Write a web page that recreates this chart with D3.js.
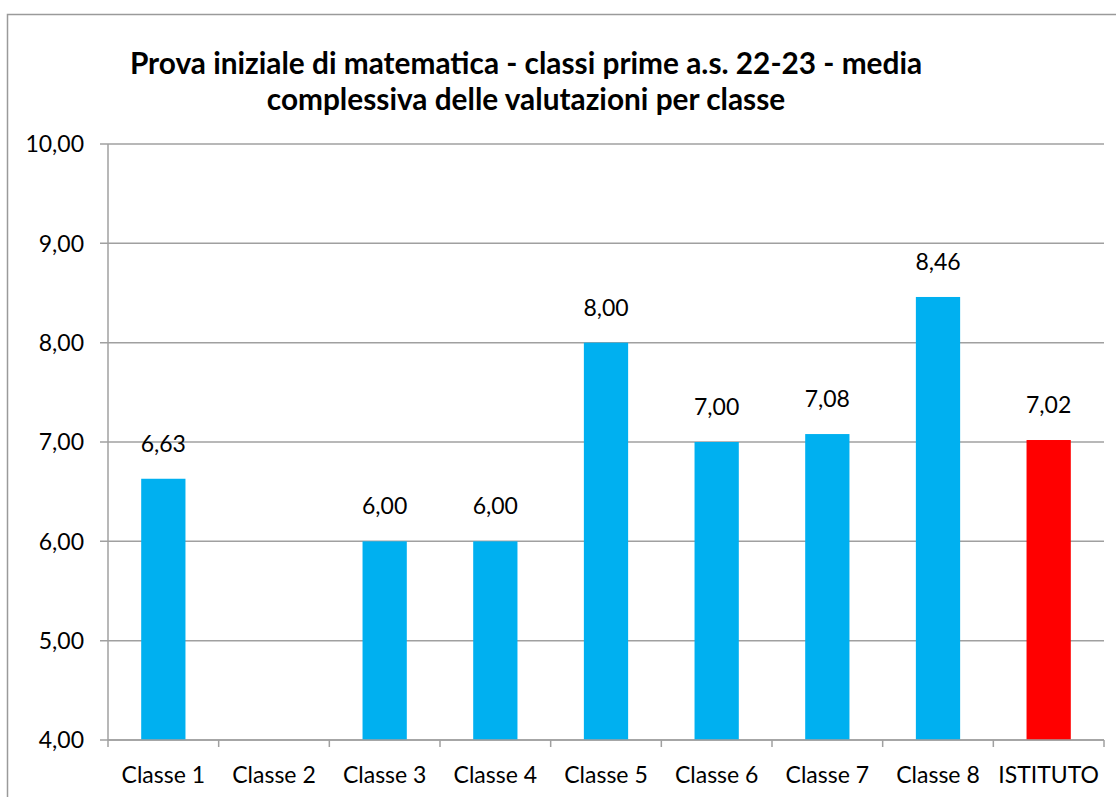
<!DOCTYPE html>
<html>
<head>
<meta charset="utf-8">
<script src="https://cdn.jsdelivr.net/npm/d3@7"></script>
<style>
  body { margin: 0; background: #fff; }
  svg text { font-family: Lato, "Open Sans", sans-serif; fill: #000; }
</style>
</head>
<body>
<script>
var w = 1116;
var h = 797;

// data
var classi = ["Classe 1", "Classe 2", "Classe 3", "Classe 4", "Classe 5", "Classe 6", "Classe 7", "Classe 8", "ISTITUTO"];
var medie = [6.63, null, 6.00, 6.00, 8.00, 7.00, 7.08, 8.46, 7.02];
var coloriBarre = ["#00B0F0", "#00B0F0", "#00B0F0", "#00B0F0", "#00B0F0", "#00B0F0", "#00B0F0", "#00B0F0", "#FF0000"];
var yTicks = [4, 5, 6, 7, 8, 9, 10];
var titolo = ["Prova iniziale di matematica - classi prime a.s. 22-23 - media", "complessiva delle valutazioni per classe"];

var margin = { left: 108, right: 12, top: 144, bottom: 57 };

var svg = d3.select("body")
    .append("svg")
    .attr("width", w)
    .attr("height", h);

// cornice del grafico
svg.append("rect")
    .attr("x", 7.5)
    .attr("y", 14.5)
    .attr("width", w + 20)
    .attr("height", h + 20)
    .style("fill", "none")
    .style("stroke", "#9a9a9a")
    .style("stroke-width", 1.5);

var x = d3.scaleBand()
    .domain(classi)
    .range([margin.left, w - margin.right]);

var y = d3.scaleLinear()
    .domain([4, 10])
    .range([h - margin.bottom, margin.top]);

var fmt = function (v) { return d3.format(".2f")(v).replace(".", ","); };

// griglia
svg.append("g")
    .selectAll("line")
    .data(yTicks)
    .enter()
    .append("line")
    .attr("x1", margin.left - 8)
    .attr("x2", w - margin.right)
    .attr("y1", function (d) { return y(d); })
    .attr("y2", function (d) { return y(d); })
    .style("stroke", "#a0a0a0")
    .style("stroke-width", 1.5);

// etichette asse y
svg.append("g")
    .selectAll("text")
    .data(yTicks)
    .enter()
    .append("text")
    .attr("x", 84)
    .attr("y", function (d) { return y(d); })
    .attr("dy", "0.36em")
    .attr("text-anchor", "end")
    .style("font-size", "23px")
    .text(fmt);

// asse y
svg.append("line")
    .attr("x1", margin.left)
    .attr("x2", margin.left)
    .attr("y1", y(10))
    .attr("y2", y(4))
    .style("stroke", "#a0a0a0")
    .style("stroke-width", 1.5);

// barre
var dati = classi.map(function (c, i) { return { c: c, v: medie[i], col: coloriBarre[i] }; })
    .filter(function (d) { return d.v != null; });

var bw = x.bandwidth() * 0.4;

svg.selectAll("rect.bar")
    .data(dati)
    .enter()
    .append("rect")
    .attr("class", "bar")
    .attr("x", function (d) { return x(d.c) + x.bandwidth() / 2 - bw / 2; })
    .attr("y", function (d) { return y(d.v); })
    .attr("width", bw)
    .attr("height", function (d) { return y(4) - y(d.v); })
    .style("fill", function (d) { return d.col; });

// valori sopra le barre
svg.selectAll("text.val")
    .data(dati)
    .enter()
    .append("text")
    .attr("class", "val")
    .attr("x", function (d) { return x(d.c) + x.bandwidth() / 2; })
    .attr("y", function (d) { return y(d.v) - 27; })
    .attr("text-anchor", "middle")
    .style("font-size", "23px")
    .text(function (d) { return fmt(d.v); });

// asse x
svg.append("line")
    .attr("x1", margin.left)
    .attr("x2", w - margin.right)
    .attr("y1", y(4))
    .attr("y2", y(4))
    .style("stroke", "#a0a0a0")
    .style("stroke-width", 1.5);

var xt = [margin.left].concat(classi.map(function (c) { return x(c) + x.bandwidth(); }));
svg.append("g")
    .selectAll("line")
    .data(xt)
    .enter()
    .append("line")
    .attr("x1", function (d) { return d; })
    .attr("x2", function (d) { return d; })
    .attr("y1", y(4))
    .attr("y2", y(4) + 7)
    .style("stroke", "#a0a0a0")
    .style("stroke-width", 1.5);

svg.append("g")
    .selectAll("text")
    .data(classi)
    .enter()
    .append("text")
    .attr("x", function (d) { return x(d) + x.bandwidth() / 2; })
    .attr("y", y(4) + 43)
    .attr("text-anchor", "middle")
    .style("font-size", "23px")
    .text(function (d) { return d; });

// titolo
svg.append("g")
    .selectAll("text")
    .data(titolo)
    .enter()
    .append("text")
    .attr("x", 526)
    .attr("y", function (d, i) { return 74 + i * 36; })
    .attr("text-anchor", "middle")
    .style("font-size", "29.8px")
    .style("font-weight", "bold")
    .text(function (d) { return d; });
</script>
</body>
</html>
